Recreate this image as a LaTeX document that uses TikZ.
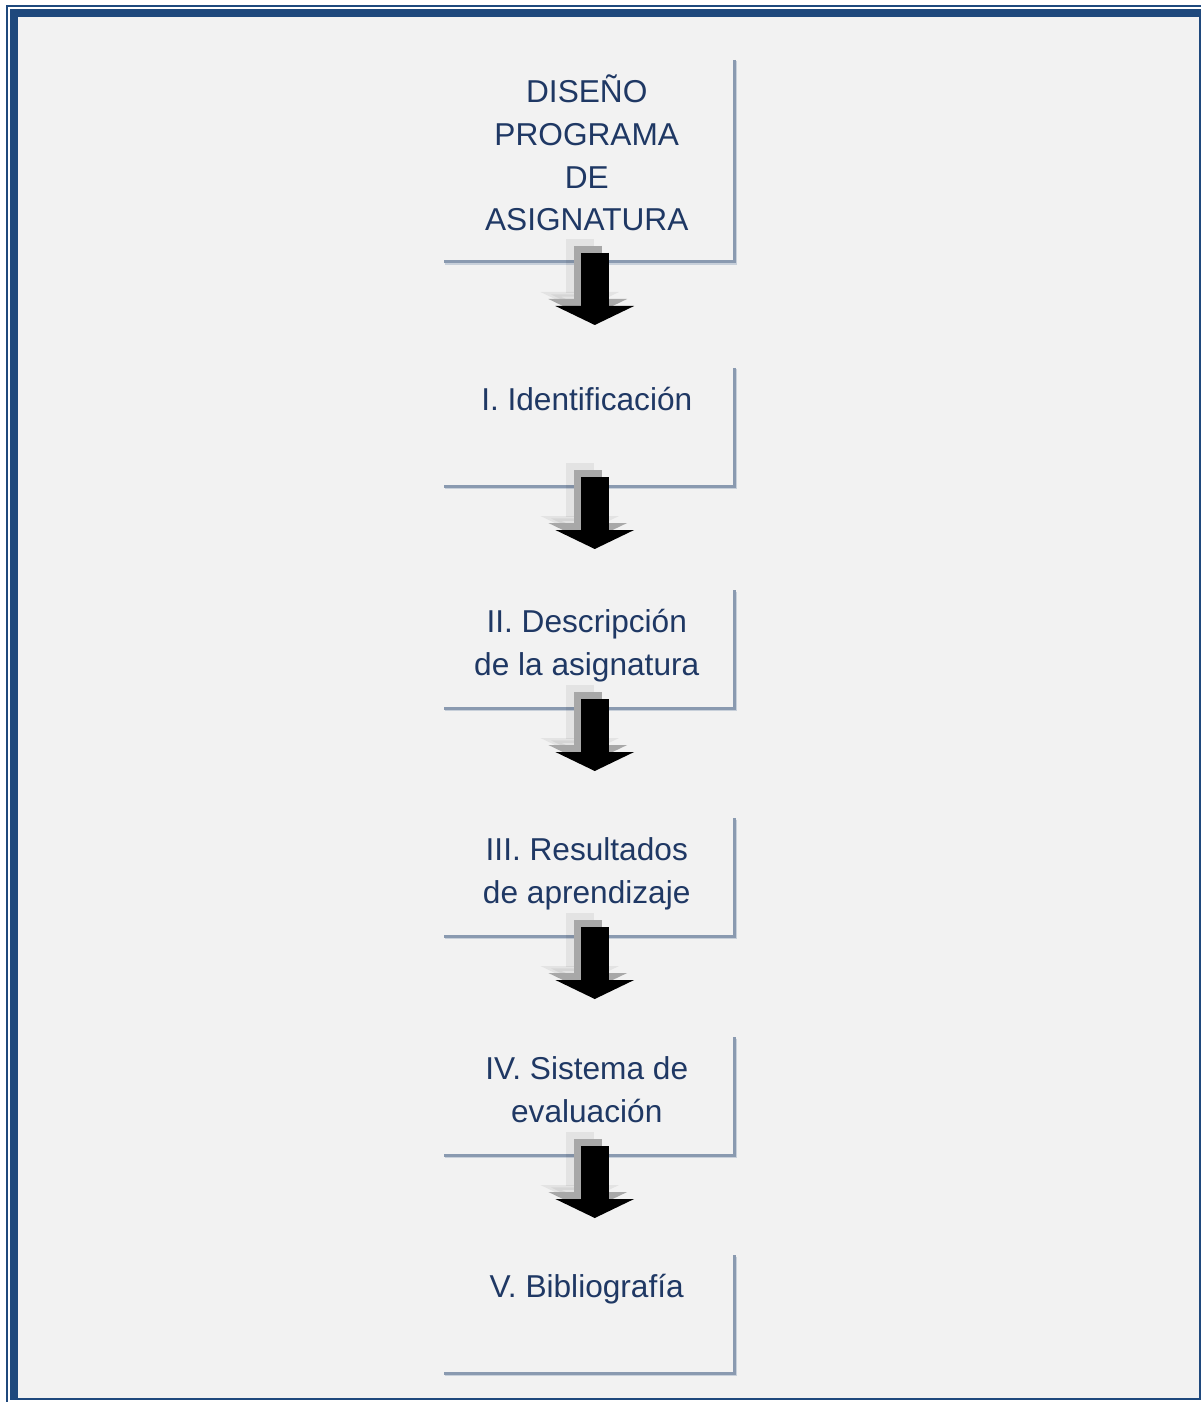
\documentclass[tikz,border=0pt]{standalone}
\usepackage{fontspec}
\setmainfont{Liberation Sans}
\usetikzlibrary{positioning,calc,arrows.meta}
\definecolor{pageblue}{HTML}{1F497D}
\definecolor{pagegray}{HTML}{F2F2F2}
\definecolor{stepink}{HTML}{1F3864}
\definecolor{stepline}{HTML}{8A9AB0}
\definecolor{stepshade}{HTML}{C8D0DA}
\definecolor{ghostnear}{HTML}{A8A8A8}

\tikzset{
  stepbox/.style={minimum width=5.81cm, minimum height=2.36cm, inner sep=0pt, outer sep=0pt},
  steptext/.style={align=center, inner sep=0pt, text=stepink,
    font=\fontsize{18}{24.3}\selectfont},
  stepframe/.style={stepline, line width=0.06cm},
  stepshadow/.style={stepshade, line width=0.05cm},
  flowarrow/.style={line width=0.56cm, -{Triangle[width=1.56cm,length=0.38cm]}},
}

\begin{document}
\begin{tikzpicture}
  \useasboundingbox (0,0) rectangle (24.02,-28.04);
  % page border: thin outer rule, thick inner rule, grey page
  \fill[white] (0,0) rectangle (24.02,-28.04);
  \fill[pageblue] (0.12,-0.10) rectangle (0.16,-28.04);
  \fill[pageblue] (0.12,-0.10) rectangle (24.02,-0.14);
  \fill[pageblue] (0.20,-0.18) rectangle (0.36,-28.00);
  \fill[pageblue] (0.20,-0.18) rectangle (24.02,-0.34);
  \fill[pageblue] (0.20,-27.96) rectangle (24.02,-28.00);
  \fill[pageblue] (23.98,-0.18) rectangle (24.02,-28.00);
  \fill[pagegray] (0.36,-0.34) rectangle (23.98,-27.96);

  % steps of the programme
  \node[stepbox, minimum height=4.04cm] (diseno) at (11.785,-3.22) {};
  \node[stepbox, below=2.12cm of diseno] (ident) {};
  \node[stepbox, below=2.08cm of ident] (descr) {};
  \node[stepbox, below=2.20cm of descr] (result) {};
  \node[stepbox, below=2.02cm of result] (evalu) {};
  \node[stepbox, below=2.00cm of evalu] (biblio) {};

  \node[steptext, below=0.25cm of diseno.north, xshift=-0.05cm] (disenotxt) {\strut DISEÑO\\PROGRAMA\\DE\\ASIGNATURA};
  \node[steptext, below=0.25cm of ident.north, xshift=-0.05cm] (identtxt) {\strut I. Identificación};
  \node[steptext, below=0.25cm of descr.north, xshift=-0.05cm] (descrtxt) {\strut II. Descripción\\de la asignatura};
  \node[steptext, below=0.25cm of result.north, xshift=-0.05cm] (resulttxt) {\strut III. Resultados\\de aprendizaje};
  \node[steptext, below=0.25cm of evalu.north, xshift=-0.05cm] (evalutxt) {\strut IV. Sistema de\\evaluación};
  \node[steptext, below=0.25cm of biblio.north, xshift=-0.05cm] (bibliotxt) {\strut V. Bibliografía};

  \foreach \n in {diseno,ident,descr,result,evalu,biblio} {
    \draw[stepshadow, transform canvas={shift={(0.02,-0.03)}}] (\n.north east) |- (\n.south west);
    \draw[stepframe] (\n.north east) |- (\n.south west);
  }

  % block arrows with their two fading copies
  \foreach \a/\b in {diseno/ident,ident/descr,descr/result,result/evalu,evalu/biblio} {
    \draw[flowarrow, black, opacity=0.06, transform canvas={shift={(-0.30,0.28)}}]
      ($(\a.south)+(0.11,0.18)$) -- ($(\a.south)!1.26cm!(\b.north)+(0.11,0)$);
    \draw[flowarrow, ghostnear, transform canvas={shift={(-0.14,0.14)}}]
      ($(\a.south)+(0.11,0.18)$) -- ($(\a.south)!1.26cm!(\b.north)+(0.11,0)$);
    \draw[flowarrow, black] ($(\a.south)+(0.11,0.18)$) -- ($(\a.south)!1.26cm!(\b.north)+(0.11,0)$);
  }
\end{tikzpicture}
\end{document}
